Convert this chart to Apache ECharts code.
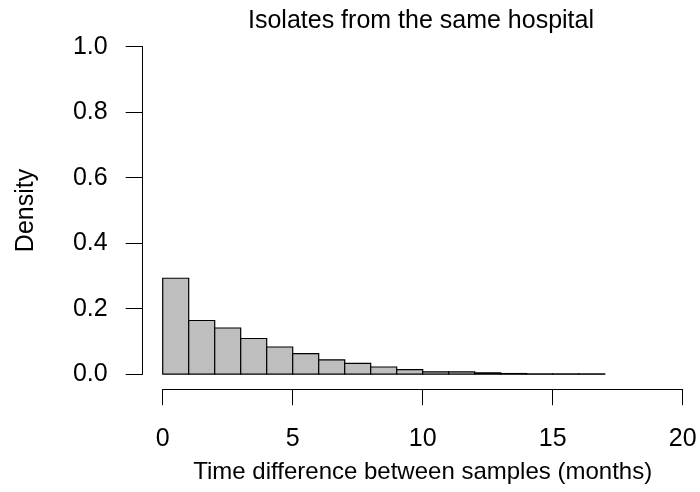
<!DOCTYPE html>
<html>
<head>
<meta charset="utf-8">
<script src="https://cdn.jsdelivr.net/npm/echarts@6/dist/echarts.min.js"></script>
<style>
  html, body { margin: 0; padding: 0; background: #fff; }
  #chart { width: 700px; height: 492px; }
</style>
</head>
<body>
<div id="chart"></div>
<script>
// Histogram bins (months) and densities
const binStart = [0, 1, 2, 3, 4, 5, 6, 7, 8, 9, 10, 11, 12, 13, 14, 15, 16];
const binEnd   = [1, 2, 3, 4, 5, 6, 7, 8, 9, 10, 11, 12, 13, 14, 15, 16, 17];
const density  = [0.293, 0.164, 0.141, 0.109, 0.083, 0.063, 0.044, 0.033, 0.022, 0.014, 0.007, 0.007, 0.004, 0.002, 0.001, 0.001, 0.001];
const xTicks = [0, 5, 10, 15, 20];
const yTicks = [0.0, 0.2, 0.4, 0.6, 0.8, 1.0];
const titleText = 'Isolates from the same hospital';
const xTitle = 'Time difference between samples (months)';
const yTitle = 'Density';

const FONT = '"Liberation Sans", Arial, Helvetica, sans-serif';
const data = binStart.map((s, i) => [s, binEnd[i], density[i]]);

const chart = echarts.init(document.getElementById('chart'), null, { renderer: 'canvas' });
chart.setOption({
  backgroundColor: '#ffffff',
  animation: false,
  graphic: [{
    type: 'text',
    x: 421,
    y: 21,
    style: {
      text: titleText,
      font: '25px ' + FONT,
      fill: '#000',
      textAlign: 'center',
      textVerticalAlign: 'middle'
    }
  }],
  grid: { left: 162.7, right: 17.3, top: 46.7, bottom: 117.8, containLabel: false },
  xAxis: {
    type: 'value',
    min: xTicks[0],
    max: xTicks[xTicks.length - 1],
    interval: 5,
    offset: 15,
    name: xTitle,
    nameLocation: 'middle',
    nameGap: 83,
    nameTextStyle: { fontFamily: FONT, fontSize: 24, color: '#000', verticalAlign: 'middle' },
    axisLine: { show: true, onZero: false, lineStyle: { color: '#000', width: 1 } },
    axisTick: { show: true, length: 16, lineStyle: { color: '#000', width: 1 } },
    axisLabel: { margin: 37, fontFamily: FONT, fontSize: 25, color: '#000' },
    splitLine: { show: false }
  },
  yAxis: {
    type: 'value',
    min: yTicks[0],
    max: yTicks[yTicks.length - 1],
    interval: 0.2,
    offset: 20,
    name: yTitle,
    nameLocation: 'middle',
    nameGap: 117,
    nameRotate: 90,
    nameTextStyle: { fontFamily: FONT, fontSize: 25, color: '#000', verticalAlign: 'middle' },
    axisLine: { show: true, onZero: false, lineStyle: { color: '#000', width: 1 } },
    axisTick: { show: true, length: 17, lineStyle: { color: '#000', width: 1 } },
    axisLabel: { margin: 35, fontFamily: FONT, fontSize: 25, color: '#000', formatter: v => v.toFixed(1) },
    splitLine: { show: false }
  },
  series: [{
    type: 'custom',
    data: data,
    encode: { x: [0, 1], y: 2 },
    renderItem: function (params, api) {
      const p0 = api.coord([api.value(0), api.value(2)]);
      const p1 = api.coord([api.value(1), 0]);
      return {
        type: 'rect',
        shape: { x: p0[0], y: p0[1], width: p1[0] - p0[0], height: p1[1] - p0[1] },
        style: { fill: '#BEBEBE', stroke: '#000', lineWidth: 1.2 }
      };
    }
  }]
});
</script>
</body>
</html>
